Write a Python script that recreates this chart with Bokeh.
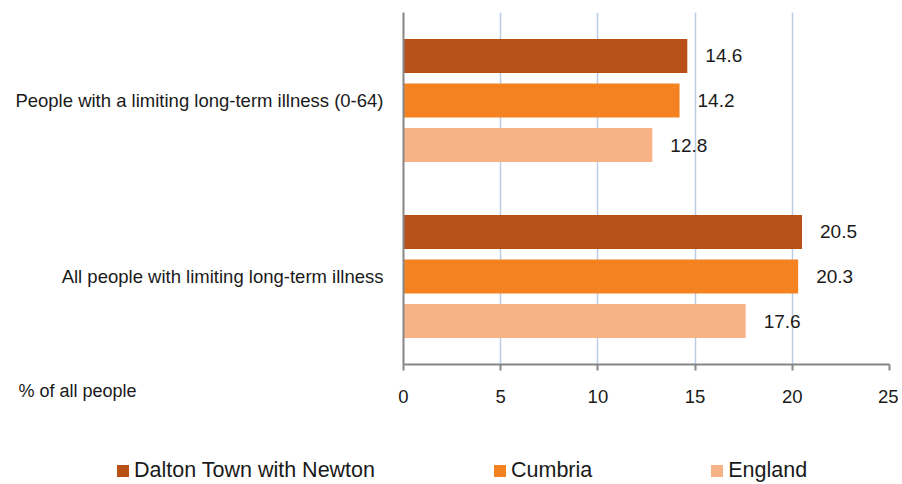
from bokeh.plotting import figure
from bokeh.layouts import column
from bokeh.models import ColumnDataSource, FactorRange, Range1d, Legend, LegendItem, Label, LabelSet, FixedTicker
from bokeh.transform import dodge
from bokeh.core.properties import value
from bokeh.embed import file_html
from bokeh.resources import INLINE

categories = ["All people with limiting long-term illness",
              "People with a limiting long-term illness (0-64)"]
series = ["Dalton Town with Newton", "Cumbria", "England"]
dalton = [20.5, 14.6]
cumbria = [20.3, 14.2]
england = [17.6, 12.8]
colors = ["#B85117", "#F58220", "#F7B385"]
x_ticks = [0, 5, 10, 15, 20, 25]

FONT = "Liberation Sans"
TXT = "#1a1a1a"

src = ColumnDataSource(dict(
    cat=categories, dalton=dalton, cumbria=cumbria, england=england,
    dalton_l=[f"{v:.1f}" for v in dalton],
    cumbria_l=[f"{v:.1f}" for v in cumbria],
    england_l=[f"{v:.1f}" for v in england],
))

p = figure(width=898, height=440, output_backend="svg", toolbar_location=None,
           y_range=FactorRange(factors=categories), x_range=Range1d(0, 25),
           min_border_left=403, min_border_right=9, min_border_top=12, min_border_bottom=76)
p.outline_line_color = None
p.background_fill_color = "white"
p.frame_align = False

offsets = [0.253, 0.0, -0.253]
keys = ["dalton", "cumbria", "england"]
for k, off, c in zip(keys, offsets, colors):
    p.hbar(y=dodge("cat", off, range=p.y_range), right=k, left=0, height=0.193,
           source=src, fill_color=c, line_color=None)
    labels = LabelSet(x=k, y=dodge("cat", off, range=p.y_range), text=k + "_l", source=src,
                      x_offset=18, text_baseline="middle", text_font=value(FONT),
                      text_font_size=value("19px"), text_color=value(TXT))
    p.add_layout(labels)

p.xgrid.grid_line_color = "#B9CDE5"
p.xgrid.grid_line_width = 1.5
p.ygrid.grid_line_color = None
p.xaxis.ticker = FixedTicker(ticks=x_ticks)
p.xaxis.axis_line_color = "#868686"
p.xaxis.axis_line_width = 2
p.xaxis.major_tick_line_color = "#868686"
p.xaxis.major_tick_line_width = 2
p.xaxis.major_tick_out = 6
p.xaxis.major_tick_in = 0
p.xaxis.minor_tick_line_color = None
p.xaxis.major_label_text_font = FONT
p.xaxis.major_label_text_font_size = "18.5px"
p.xaxis.major_label_text_color = TXT
p.xaxis.major_label_standoff = 19

p.yaxis.axis_line_color = "#868686"
p.yaxis.axis_line_width = 2
p.yaxis.major_tick_line_color = None
p.yaxis.minor_tick_line_color = None
p.yaxis.major_label_text_font = FONT
p.yaxis.major_label_text_font_size = "18.5px"
p.yaxis.major_label_text_color = TXT
p.yaxis.major_label_standoff = 14

p.add_layout(Label(x=-385, y=35, x_units="screen", y_units="screen", text="% of all people",
                   text_font=FONT, text_font_size="18px", text_color=TXT,
                   text_baseline="middle"), "below")

# legend strip
leg = figure(width=898, height=44, output_backend="svg", toolbar_location=None,
             x_range=Range1d(0, 25), y_range=FactorRange(factors=categories),
             min_border=0, x_axis_location=None, y_axis_location=None)
leg.outline_line_color = None
leg.xgrid.visible = False
leg.ygrid.visible = False
leg.frame_align = False
leg_renderers = []
for k, c in zip(keys, colors):
    r = leg.hbar(y="cat", right=k, left=0, height=0.2, source=src,
                 fill_color=c, line_color=None, visible=False)
    leg_renderers.append(r)

legend = Legend(items=[LegendItem(label=s, renderers=[r]) for s, r in zip(series, leg_renderers)],
                orientation="horizontal", location=(115, 1), spacing=117,
                glyph_width=15, glyph_height=15, label_standoff=4,
                label_text_font=FONT, label_text_font_size="21.5px", label_text_color=TXT,
                padding=0, margin=0, border_line_color=None, background_fill_alpha=0,
                inactive_fill_alpha=0)
leg.add_layout(legend, "center")

layout = column(p, leg, spacing=0)
open("out.html", "w").write(file_html(layout, INLINE))
